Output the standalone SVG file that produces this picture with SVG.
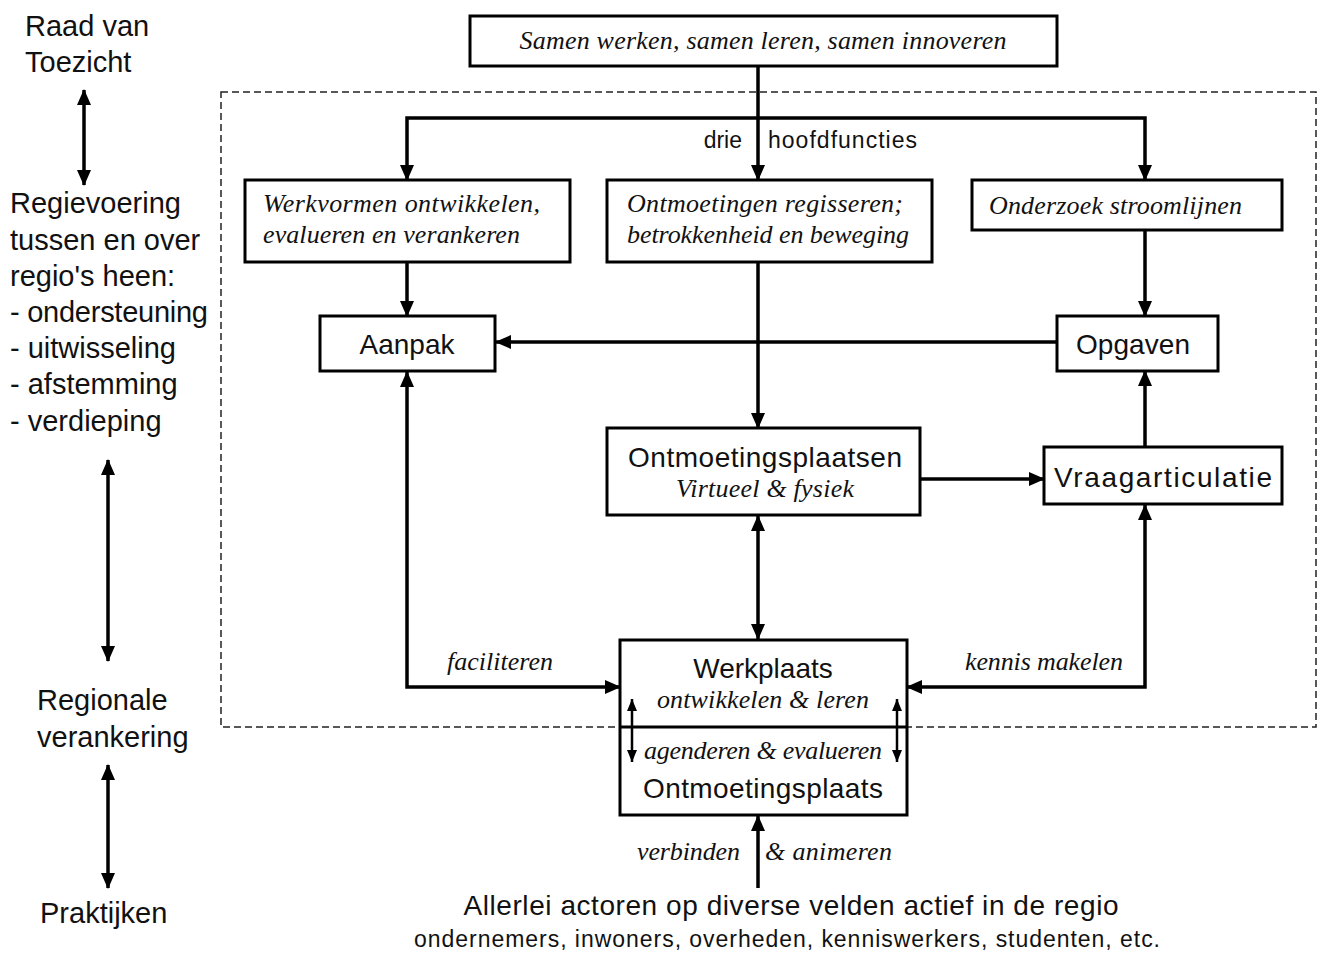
<svg xmlns="http://www.w3.org/2000/svg" width="1318" height="953" viewBox="0 0 1318 953">
<defs>
<marker id="ah" markerUnits="userSpaceOnUse" markerWidth="16" markerHeight="14" refX="15" refY="7" orient="auto-start-reverse" viewBox="0 0 16 14">
<path d="M0,0 L16,7 L0,14 z" fill="#000"/>
</marker>
<marker id="sm" markerUnits="userSpaceOnUse" markerWidth="12" markerHeight="10" refX="12" refY="5" orient="auto-start-reverse" viewBox="0 0 12 10">
<path d="M0,0 L12,5 L0,10 z" fill="#000"/>
</marker>
<style>
.box{fill:#fff;stroke:#000;stroke-width:3}
.c{fill:none;stroke:#000;stroke-width:3.5}
.s{font-family:"Liberation Sans","DejaVu Sans",sans-serif;fill:#111}
.i{font-family:"Liberation Serif","DejaVu Serif",serif;font-style:italic;fill:#111}
</style>
</defs>
<rect width="1318" height="953" fill="#fff"/>
<rect x="221" y="92" width="1095" height="635" fill="none" stroke="#222" stroke-width="1.5" stroke-dasharray="7,4"/>

<g id="left-labels">
<text class="s" font-size="29" x="25" y="36">Raad van</text>
<text class="s" font-size="29" x="25" y="72">Toezicht</text>
<text class="s" font-size="29" x="10" y="213">Regievoering</text>
<text class="s" font-size="29" x="10" y="250">tussen en over</text>
<text class="s" font-size="29" x="10" y="286">regio's heen:</text>
<text class="s" font-size="29" x="10" y="322" textLength="198">- ondersteuning</text>
<text class="s" font-size="29" x="10" y="358">- uitwisseling</text>
<text class="s" font-size="29" x="10" y="394">- afstemming</text>
<text class="s" font-size="29" x="10" y="431">- verdieping</text>
<text class="s" font-size="29" x="37" y="710">Regionale</text>
<text class="s" font-size="29" x="37" y="747">verankering</text>
<text class="s" font-size="29" x="40" y="923">Praktijken</text>
</g>

<g id="connectors">
<line class="c" x1="84" y1="90" x2="84" y2="185" marker-start="url(#ah)" marker-end="url(#ah)"/>
<line class="c" x1="108" y1="460" x2="108" y2="661" marker-start="url(#ah)" marker-end="url(#ah)"/>
<line class="c" x1="108" y1="765" x2="108" y2="888" marker-start="url(#ah)" marker-end="url(#ah)"/>
<line class="c" x1="758" y1="66" x2="758" y2="180" marker-end="url(#ah)"/>
<polyline class="c" points="407,180 407,118 1145,118 1145,180" marker-start="url(#ah)" marker-end="url(#ah)"/>
<line class="c" x1="407" y1="262" x2="407" y2="316" marker-end="url(#ah)"/>
<line class="c" x1="1145" y1="230" x2="1145" y2="316" marker-end="url(#ah)"/>
<line class="c" x1="1057" y1="342" x2="496" y2="342" marker-end="url(#ah)"/>
<line class="c" x1="758" y1="262" x2="758" y2="428" marker-end="url(#ah)"/>
<line class="c" x1="920" y1="479" x2="1044" y2="479" marker-end="url(#ah)"/>
<line class="c" x1="1145" y1="447" x2="1145" y2="371" marker-end="url(#ah)"/>
<line class="c" x1="758" y1="516" x2="758" y2="639" marker-start="url(#ah)" marker-end="url(#ah)"/>
<polyline class="c" points="407,372 407,687 620,687" marker-start="url(#ah)" marker-end="url(#ah)"/>
<polyline class="c" points="1145,505 1145,687 907,687" marker-start="url(#ah)" marker-end="url(#ah)"/>
<line class="c" x1="758" y1="888" x2="758" y2="816" marker-end="url(#ah)"/>
<text class="s" font-size="23" x="742" y="148" text-anchor="end">drie</text>
<text class="s" font-size="23" x="768" y="148" textLength="149">hoofdfuncties</text>
<text class="i" font-size="26" x="500" y="670" text-anchor="middle" textLength="106">faciliteren</text>
<text class="i" font-size="26" x="1044" y="670" text-anchor="middle" textLength="158">kennis makelen</text>
<text class="i" font-size="26" x="740" y="860" text-anchor="end" textLength="103">verbinden</text>
<text class="i" font-size="26" x="765" y="860" textLength="127">&amp; animeren</text>
</g>

<g id="n-top">
<rect class="box" x="470" y="16" width="587" height="50"/>
<text class="i" font-size="26" x="763" y="49" text-anchor="middle" textLength="487">Samen werken, samen leren, samen innoveren</text>
</g>
<g id="n-werkvormen">
<rect class="box" x="245" y="180" width="325" height="82"/>
<text class="i" font-size="26" x="263" y="212" textLength="277">Werkvormen ontwikkelen,</text>
<text class="i" font-size="26" x="263" y="243" textLength="257">evalueren en verankeren</text>
</g>
<g id="n-ontmoetingen">
<rect class="box" x="607" y="180" width="325" height="82"/>
<text class="i" font-size="26" x="627" y="212" textLength="276">Ontmoetingen regisseren;</text>
<text class="i" font-size="26" x="627" y="243" textLength="282">betrokkenheid en beweging</text>
</g>
<g id="n-onderzoek">
<rect class="box" x="972" y="180" width="310" height="50"/>
<text class="i" font-size="26" x="989" y="214" textLength="253">Onderzoek stroomlijnen</text>
</g>
<g id="n-aanpak">
<rect class="box" x="320" y="316" width="175" height="55"/>
<text class="s" font-size="28" x="407" y="354" text-anchor="middle">Aanpak</text>
</g>
<g id="n-opgaven">
<rect class="box" x="1057" y="316" width="161" height="55"/>
<text class="s" font-size="28" x="1133" y="354" text-anchor="middle" textLength="114">Opgaven</text>
</g>
<g id="n-ontmoetingsplaatsen">
<rect class="box" x="607" y="428" width="313" height="87"/>
<text class="s" font-size="28" x="765" y="467" text-anchor="middle" textLength="274">Ontmoetingsplaatsen</text>
<text class="i" font-size="26" x="765" y="497" text-anchor="middle" textLength="178">Virtueel &amp; fysiek</text>
</g>
<g id="n-vraagarticulatie">
<rect class="box" x="1044" y="447" width="238" height="57"/>
<text class="s" font-size="28" x="1163" y="487" text-anchor="middle" textLength="218">Vraagarticulatie</text>
</g>
<g id="n-werkplaats">
<rect class="box" x="620" y="640" width="287" height="175"/>
<line x1="620" y1="727" x2="907" y2="727" stroke="#000" stroke-width="3"/>
<line x1="632" y1="699" x2="632" y2="762" stroke="#000" stroke-width="2.5" marker-start="url(#sm)" marker-end="url(#sm)"/>
<line x1="897" y1="699" x2="897" y2="762" stroke="#000" stroke-width="2.5" marker-start="url(#sm)" marker-end="url(#sm)"/>
<text class="s" font-size="28" x="763" y="678" text-anchor="middle">Werkplaats</text>
<text class="i" font-size="26" x="763" y="708" text-anchor="middle" textLength="212">ontwikkelen &amp; leren</text>
<text class="i" font-size="26" x="763" y="759" text-anchor="middle" textLength="238">agenderen &amp; evalueren</text>
<text class="s" font-size="28" x="763" y="798" text-anchor="middle" textLength="240">Ontmoetingsplaats</text>
</g>
<g id="n-actoren">
<text class="s" font-size="28" x="791" y="915" text-anchor="middle" textLength="655">Allerlei actoren op diverse velden actief in de regio</text>
<text class="s" font-size="23" x="787" y="947" text-anchor="middle" textLength="746">ondernemers, inwoners, overheden, kenniswerkers, studenten, etc.</text>
</g>
</svg>
